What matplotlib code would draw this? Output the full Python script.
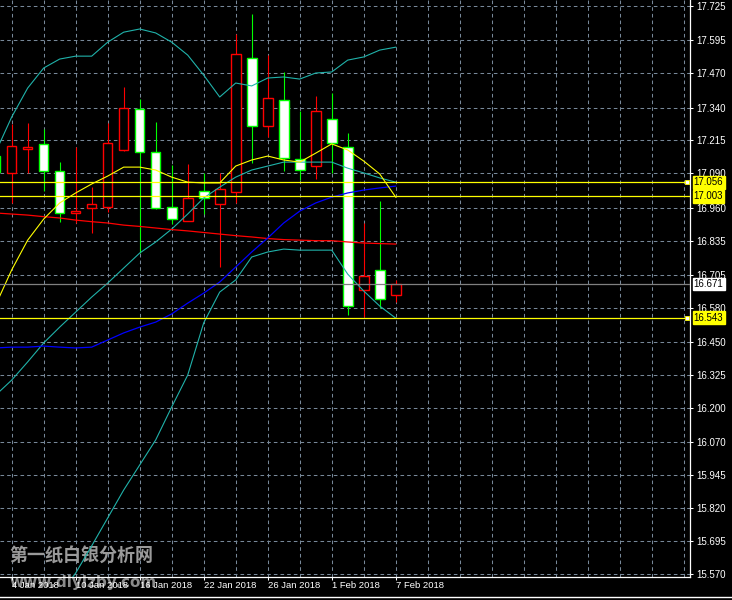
import numpy as np
import matplotlib
matplotlib.use('Agg')
import matplotlib.pyplot as plt
from matplotlib.lines import Line2D

plt.rcParams['font.family'] = ['Liberation Sans', 'DejaVu Sans']
plt.rcParams['lines.scale_dashes'] = False

# daily candles, bar -1 (3 Jan) is cut off at the left edge, bar 24 = 7 Feb 2018
bar_idx = np.arange(-1, 25)
opens = [17.156, 17.093, 17.184, 17.200, 17.098, 16.939, 16.958, 16.961, 17.178, 17.333,
         17.170, 16.961, 16.908, 17.022, 16.973, 17.018, 17.527, 17.270, 17.367, 17.143,
         17.118, 17.295, 17.191, 16.646, 16.722, 16.628]
highs = [17.200, 17.276, 17.282, 17.257, 17.133, 17.189, 17.040, 17.280, 17.417, 17.371,
         17.284, 17.122, 17.126, 17.093, 17.090, 17.618, 17.695, 17.539, 17.476, 17.327,
         17.384, 17.394, 17.242, 16.903, 16.985, 16.686]
lows = [17.050, 16.977, 17.093, 17.024, 16.907, 16.901, 16.863, 16.945, 17.175, 16.787,
        16.955, 16.898, 16.908, 16.935, 16.736, 16.977, 17.131, 17.229, 17.100, 17.065,
        17.069, 17.090, 16.553, 16.546, 16.578, 16.603]
closes = [17.096, 17.193, 17.190, 17.098, 16.939, 16.947, 16.973, 17.204, 17.337, 17.170,
          16.958, 16.916, 16.995, 16.995, 17.030, 17.542, 17.269, 17.375, 17.147, 17.103,
          17.327, 17.204, 16.587, 16.700, 16.613, 16.671]

# indicators, one value per bar
bb_upper = [17.171, 17.304, 17.414, 17.490, 17.524, 17.535, 17.535, 17.588, 17.626, 17.638,
            17.623, 17.588, 17.539, 17.463, 17.380, 17.433, 17.422, 17.452, 17.456, 17.448,
            17.471, 17.475, 17.520, 17.532, 17.558, 17.569]
bb_mid = [16.249, 16.306, 16.375, 16.447, 16.507, 16.564, 16.621, 16.674, 16.731, 16.788,
          16.830, 16.879, 16.936, 16.997, 17.038, 17.076, 17.103, 17.118, 17.133, 17.133,
          17.133, 17.133, 17.110, 17.092, 17.073, 17.057]
bb_lower = [15.274, 15.293, 15.335, 15.403, 15.491, 15.574, 15.677, 15.783, 15.889, 15.984,
            16.079, 16.204, 16.325, 16.523, 16.640, 16.686, 16.773, 16.792, 16.803, 16.799,
            16.799, 16.799, 16.708, 16.644, 16.587, 16.541]
ma_yellow = [16.591, 16.724, 16.837, 16.917, 16.978, 17.016, 17.050, 17.080, 17.114, 17.114,
             17.103, 17.076, 17.057, 17.054, 17.054, 17.118, 17.141, 17.156, 17.141, 17.133,
             17.167, 17.202, 17.179, 17.137, 17.088, 17.000]
ma_red = [16.940, 16.936, 16.932, 16.926, 16.921, 16.913, 16.907, 16.902, 16.894, 16.889,
          16.883, 16.877, 16.872, 16.866, 16.860, 16.854, 16.849, 16.843, 16.839, 16.837,
          16.835, 16.835, 16.830, 16.826, 16.824, 16.822]
ma_blue = [16.428, 16.431, 16.431, 16.435, 16.431, 16.428, 16.431, 16.458, 16.485, 16.507,
           16.526, 16.557, 16.598, 16.636, 16.678, 16.735, 16.792, 16.845, 16.902, 16.947,
           16.978, 17.000, 17.016, 17.027, 17.035, 17.042]

# horizontal levels
level_lines = [17.056, 17.003, 16.543]
bid_price = 16.671

price_ticks = [17.725, 17.595, 17.470, 17.340, 17.215, 17.090, 16.960, 16.835, 16.705,
               16.580, 16.450, 16.325, 16.200, 16.070, 15.945, 15.820, 15.695, 15.570]
date_labels = ['4 Jan 2018', '10 Jan 2018', '16 Jan 2018', '22 Jan 2018',
               '26 Jan 2018', '1 Feb 2018', '7 Feb 2018']

o = np.array(opens)
c = np.array(closes)
x = bar_idx

fig = plt.figure(figsize=(7.32, 6), dpi=100, facecolor='black')
ax = fig.add_axes([0, 23 / 600, 690 / 732, 577 / 600])
ax.set_facecolor('black')
ax.set_xlim(-0.73, 42.39)
ax.set_ylim(15.559, 17.748)

# dashed grid
grid_kw = dict(color='#778899', lw=0.75, linestyle=(0, (2.6, 2.2)), zorder=0.5)
for gx in range(0, 43, 2):
    ax.axvline(gx, **grid_kw)
for gy in price_ticks:
    ax.axhline(gy, **grid_kw)

# candles
bull = c >= o
col = np.where(bull, '#ff0000', '#00ff00')
face = np.where(bull, 'black', 'white')
ax.vlines(x, lows, highs, colors=col, lw=0.8, zorder=3)
ax.bar(x, np.abs(c - o), bottom=np.minimum(o, c), width=0.6, color=face,
       edgecolor=col, linewidth=1.0, zorder=4)

# indicators
ax.plot(x, bb_upper, color='#20b2aa', lw=0.8, zorder=5)
ax.plot(x, bb_mid, color='#20b2aa', lw=0.8, zorder=5)
ax.plot(x, bb_lower, color='#20b2aa', lw=0.8, zorder=5)
ax.plot(x, ma_red, color='#ff0000', lw=0.9, zorder=5)
ax.plot(x, ma_blue, color='#0000ff', lw=0.9, zorder=5)
ax.plot(x, ma_yellow, color='#ffff00', lw=0.8, zorder=5)

for lv in level_lines:
    ax.axhline(lv, color='#ffff00', lw=0.9, zorder=6)
ax.axhline(bid_price, color='#808080', lw=0.9, zorder=6)
ax.plot([0.995, 0.995], [level_lines[0], level_lines[2]], 's', ms=3.2, mfc='white',
        mec='#ffff00', mew=0.6, transform=ax.get_yaxis_transform(), zorder=7, clip_on=False)

# price tags on the right
for lv in level_lines:
    ax.text(1.0055, lv, f'{lv:.3f}', transform=ax.get_yaxis_transform(), ha='left',
            va='center', fontsize=7, color='black', zorder=8, clip_on=False,
            bbox=dict(boxstyle='square,pad=0.12', fc='#ffff00', ec='#ffff00'))
ax.text(1.0055, bid_price, f'{bid_price:.3f}', transform=ax.get_yaxis_transform(),
        ha='left', va='center', fontsize=7, color='black', zorder=8, clip_on=False,
        bbox=dict(boxstyle='square,pad=0.12', fc='white', ec='white'))

# axes
ax.yaxis.tick_right()
ax.set_yticks(price_ticks)
ax.set_yticklabels([f'{v:.3f}' for v in price_ticks])
ax.set_xticks(range(0, 25, 4))
ax.set_xticklabels(date_labels)
for lab in ax.get_xticklabels():
    lab.set_horizontalalignment('left')
ax.tick_params(axis='y', colors='white', labelsize=7, length=2.5, width=0.75, pad=2)
ax.tick_params(axis='x', colors='white', labelsize=6.8, length=2.2, width=0.75, pad=0.8)
for s in ['top', 'left']:
    ax.spines[s].set_visible(False)
for s in ['right', 'bottom']:
    ax.spines[s].set_color('white')
    ax.spines[s].set_linewidth(0.9)

fig.add_artist(Line2D([0, 1], [0.0042, 0.0042], transform=fig.transFigure,
                      color='white', lw=1.0))

# site watermark
ax.text(9 / 732, 1 - 556 / 600, '第一纸白银分析网', transform=fig.transFigure,
        fontsize=13, fontweight='bold', color='#9a9a9a', va='center', ha='left',
        family=['Noto Sans CJK SC', 'DejaVu Sans'], zorder=1.5, clip_on=False)
ax.text(9 / 732, 1 - 582 / 600, 'www.diyizby.com', transform=fig.transFigure,
        fontsize=11, fontweight='bold', color='#8a8a8a', va='center', ha='left',
        family='DejaVu Sans', zorder=1.5, clip_on=False)

fig.savefig('out.png', dpi=100, facecolor='black')
